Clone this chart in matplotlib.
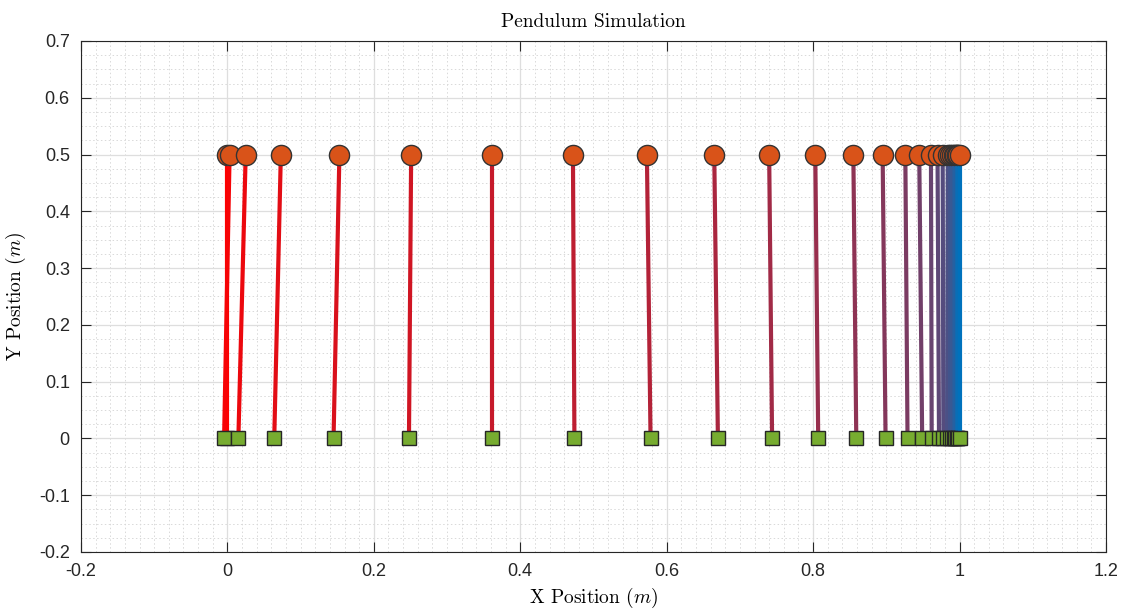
import numpy as np
import matplotlib
matplotlib.use("Agg")
import matplotlib.pyplot as plt
from matplotlib.ticker import MultipleLocator, FuncFormatter

plt.rcParams['mathtext.fontset'] = 'cm'
plt.rcParams['axes.unicode_minus'] = False

# frame positions (cart at y=0, bob at y=0.5)
cart_x = [0.0, -0.0045, 0.015, 0.064, 0.145, 0.248, 0.362, 0.474, 0.578, 0.670,
          0.744, 0.807, 0.859, 0.899, 0.929, 0.949, 0.962, 0.972, 0.978, 0.983,
          0.987, 0.990, 0.992, 0.994, 0.996, 0.997, 0.998, 1.0]
bob_x = [0.0, 0.003, 0.025, 0.073, 0.153, 0.251, 0.362, 0.472, 0.573, 0.665,
         0.740, 0.803, 0.855, 0.895, 0.926, 0.945, 0.961, 0.970, 0.977, 0.984,
         0.987, 0.990, 0.992, 0.994, 0.996, 0.997, 0.998, 1.0]
cart_y = 0.0
bob_y = 0.5

x_ticks = [-0.2, 0, 0.2, 0.4, 0.6, 0.8, 1, 1.2]
y_ticks = [-0.2, -0.1, 0, 0.1, 0.2, 0.3, 0.4, 0.5, 0.6, 0.7]

red = np.array([1.0, 0.0, 0.0])
blue = np.array([0.0, 0.447, 0.741])
orange = (0.85, 0.325, 0.098)
green = (0.466, 0.674, 0.188)

fig = plt.figure(figsize=(11.23, 6.09), dpi=100)
ax = fig.add_axes([0.0721, 0.0936, 0.9127, 0.8391])

n = len(cart_x)
for k in range(n):
    t = k / (n - 1)
    c = red * (1 - t) + blue * t
    ax.plot([cart_x[k], bob_x[k]], [cart_y, bob_y], '-', color=c, lw=3,
            zorder=3 + k * 0.01, solid_capstyle='butt')
    ax.plot(cart_x[k], cart_y, 's', ms=10.5, mfc=green, mec=(0.15, 0.15, 0.15), mew=1,
            zorder=3.005 + k * 0.01)
    ax.plot(bob_x[k], bob_y, 'o', ms=14.5, mfc=orange, mec=(0.2, 0.2, 0.2), mew=1,
            zorder=3.006 + k * 0.01)

ax.set_xlim(-0.2, 1.2)
ax.set_ylim(-0.2, 0.7)
ax.set_xticks(x_ticks)
ax.set_yticks(y_ticks)
fmt = FuncFormatter(lambda v, p: '%g' % round(v, 3))
ax.xaxis.set_major_formatter(fmt)
ax.yaxis.set_major_formatter(fmt)
ax.xaxis.set_minor_locator(MultipleLocator(0.02))
ax.yaxis.set_minor_locator(MultipleLocator(0.025))

ax.grid(True, which='major', color=(0.87, 0.87, 0.87), lw=0.9, zorder=0)
ax.grid(True, which='minor', color=(0.85, 0.85, 0.85), lw=0.7, ls=(0, (1.5, 2.5)), zorder=0)
ax.set_axisbelow(True)

ax.tick_params(which='major', direction='in', length=7, width=0.8, top=True, right=True,
               labelsize=13, colors=(0.15, 0.15, 0.15), pad=8)
ax.tick_params(which='minor', length=0)
for lab in ax.get_xticklabels() + ax.get_yticklabels():
    lab.set_fontfamily('Liberation Sans')
for s in ax.spines.values():
    s.set_color((0.15, 0.15, 0.15))
    s.set_linewidth(0.8)

ax.set_title('Pendulum Simulation', fontfamily='cmr10', fontsize=14, pad=10)
ax.set_xlabel(r'X Position $(m)$', fontfamily='cmr10', fontsize=14, labelpad=4)
ax.set_ylabel(r'Y Position $(m)$', fontfamily='cmr10', fontsize=14, labelpad=8)

fig.savefig('out.png', dpi=100)
